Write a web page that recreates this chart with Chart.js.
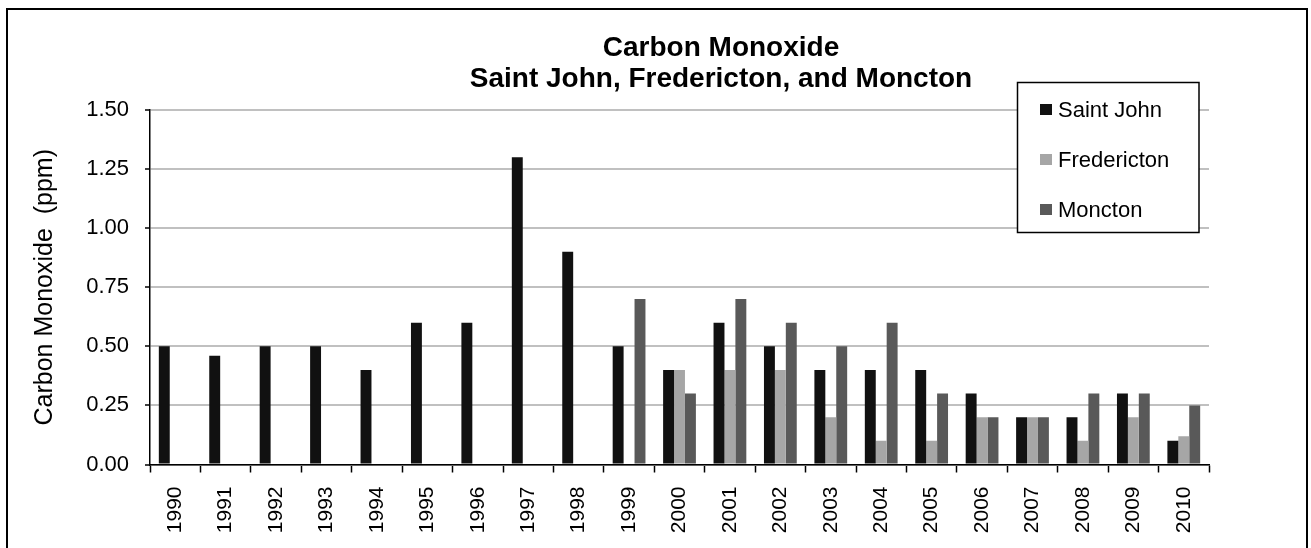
<!DOCTYPE html>
<html>
<head>
<meta charset="utf-8">
<script src="https://cdn.jsdelivr.net/npm/chart.js@4/dist/chart.umd.min.js"></script>
<style>
  html, body { margin: 0; padding: 0; background: #ffffff; }
  canvas { display: block; }
</style>
</head>
<body>
<canvas id="c" width="1311" height="548"></canvas>
<script>
// ---- Data ----
const years = ["1990","1991","1992","1993","1994","1995","1996","1997","1998","1999","2000",
               "2001","2002","2003","2004","2005","2006","2007","2008","2009","2010"];
const saintJohn   = [0.50,0.46,0.50,0.50,0.40,0.60,0.60,1.30,0.90,0.50,0.40,0.60,0.50,0.40,0.40,0.40,0.30,0.20,0.20,0.30,0.10];
const fredericton = [null,null,null,null,null,null,null,null,null,null,0.40,0.40,0.40,0.20,0.10,0.10,0.20,0.20,0.10,0.20,0.12];
const moncton     = [null,null,null,null,null,null,null,null,null,0.70,0.30,0.70,0.60,0.50,0.60,0.30,0.20,0.20,0.30,0.30,0.25];
const seriesNames = ["Saint John", "Fredericton", "Moncton"];
const titleLines  = ["Carbon Monoxide", "Saint John, Fredericton, and Moncton"];
const yAxisTitle  = "Carbon Monoxide  (ppm)";
const yTicks      = [0, 0.25, 0.5, 0.75, 1.0, 1.25, 1.5];

const FONT = "'Liberation Sans', Arial, sans-serif";

// Background + outer frame
const framePlugin = {
  id: 'frame',
  beforeDraw(chart) {
    const ctx = chart.ctx;
    ctx.save();
    ctx.fillStyle = '#ffffff';
    ctx.fillRect(0, 0, chart.width, chart.height);
    ctx.strokeStyle = '#000000';
    ctx.lineWidth = 2;
    ctx.strokeRect(7, 9, 1300, 700);
    ctx.restore();
  }
};

// Two-line bold title
const titlePlugin = {
  id: 'twoLineTitle',
  afterDraw(chart) {
    const ctx = chart.ctx;
    ctx.save();
    ctx.fillStyle = '#000000';
    ctx.font = "bold 28px " + FONT;
    ctx.textAlign = 'center';
    ctx.textBaseline = 'middle';
    ctx.fillText(titleLines[0], 721, 48);
    ctx.fillText(titleLines[1], 721, 79);
    ctx.restore();
  }
};

// Boxed legend placed inside the plot
const legendPlugin = {
  id: 'boxLegend',
  afterDraw(chart) {
    const ctx = chart.ctx;
    ctx.save();
    ctx.fillStyle = '#ffffff';
    ctx.fillRect(1017.5, 82.5, 181.5, 150);
    ctx.strokeStyle = '#000000';
    ctx.lineWidth = 1.5;
    ctx.strokeRect(1017.5, 82.5, 181.5, 150);
    const rowsY = [109.5, 159.5, 209.5];
    ctx.font = "22px " + FONT;
    ctx.textAlign = 'left';
    ctx.textBaseline = 'middle';
    chart.data.datasets.forEach((ds, i) => {
      ctx.fillStyle = ds.backgroundColor;
      ctx.fillRect(1040, rowsY[i] - 5.5, 12, 11);
      ctx.fillStyle = '#000000';
      ctx.fillText(ds.label, 1058, rowsY[i] + 1);
    });
    ctx.restore();
  }
};

new Chart(document.getElementById('c'), {
  type: 'bar',
  data: {
    labels: years,
    datasets: [
      { label: seriesNames[0], data: saintJohn,   backgroundColor: '#111111' },
      { label: seriesNames[1], data: fredericton, backgroundColor: '#a6a6a6' },
      { label: seriesNames[2], data: moncton,     backgroundColor: '#595959' }
    ]
  },
  options: {
    responsive: false,
    animation: false,
    devicePixelRatio: 1,
    layout: { padding: { left: 0, top: 110, right: 102, bottom: 0 } },
    datasets: { bar: { categoryPercentage: 0.65, barPercentage: 1.0 } },
    plugins: {
      legend: { display: false },
      title: { display: false },
      tooltip: { enabled: false }
    },
    scales: {
      x: {
        offset: true,
        grid: { offset: true, drawOnChartArea: false, drawTicks: true, tickLength: 8, tickColor: '#000000', tickWidth: 1.5 },
        border: { display: true, color: '#000000', width: 1.5 },
        ticks: {
          minRotation: 90, maxRotation: 90, autoSkip: false,
          padding: 14, color: '#000000',
          font: { family: FONT, size: 21 }
        },
        afterFit(scale) { scale.height = 83.5; }
      },
      y: {
        min: 0, max: 1.5,
        afterBuildTicks(scale) { scale.ticks = yTicks.map(v => ({ value: v })); },
        grid: { color: '#c0c0c0', lineWidth: 2, tickColor: '#000000', tickLength: 5, tickWidth: 1.5 },
        border: { display: true, color: '#000000', width: 1.5 },
        ticks: {
          padding: 16, color: '#000000',
          font: { family: FONT, size: 22 },
          callback: (v) => Number(v).toFixed(2)
        },
        title: {
          display: true, text: yAxisTitle, color: '#000000',
          font: { family: FONT, size: 25 },
          padding: { top: 30, bottom: 0 }
        },
        afterFit(scale) { scale.width = 150; }
      }
    }
  },
  plugins: [framePlugin, titlePlugin, legendPlugin]
});
</script>
</body>
</html>
